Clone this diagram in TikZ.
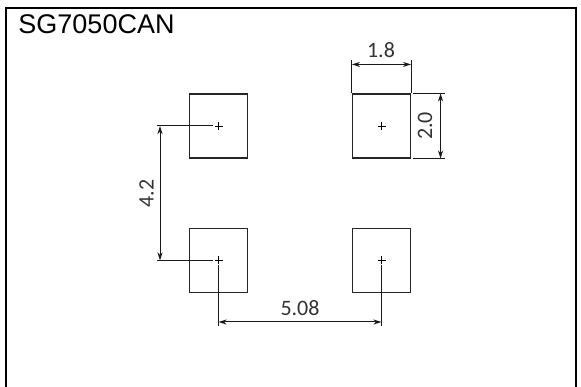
\documentclass[tikz,border=0pt]{standalone}
\usepackage{fontspec}
\setmainfont{Liberation Sans}
\newfontfamily\cadfont{Carlito}
\usetikzlibrary{arrows.meta, positioning}
\begin{document}
\begin{tikzpicture}[x=1pt, y=-1pt,
    pad/.style={draw=black!85, line width=1.1pt, minimum width=58pt, minimum height=64pt, inner sep=0pt},
    thin line/.style={line width=1pt, black!90},
    dim/.style={thin line, {Stealth[length=8pt, width=5pt, inset=2.5pt]}-{Stealth[length=8pt, width=5pt, inset=2.5pt]}},
    size/.style={font=\cadfont\fontsize{22}{22}\selectfont, text=black!80, inner sep=0pt},
    cross/.style={line width=0.8pt, black}]
    \useasboundingbox (0,0) rectangle (581,387);

    % Frame and title
    \coordinate (framebl) at (6,387);
    \coordinate (frametr) at (575.7,7.8);
    \draw[line width=2pt] (framebl) |- (frametr) -- (frametr |- framebl);
    \node[font=\fontsize{27}{27}\selectfont, inner sep=0pt] (title) at (96.5,24.5) {SG7050CAN};

    % Pads
    \node[pad] (padtl) at (218.5,126) {};
    \node[pad] (padtr) at (381.5,126) {};
    \node[pad] (padbl) at (218.5,260.5) {};
    \node[pad] (padbr) at (381.5,260.5) {};

    % Centre marks
    \foreach \p in {padtl, padtr, padbl, padbr} {
        \draw[cross] ([xshift=-4pt]\p.center) -- ([xshift=4pt]\p.center);
        \draw[cross] ([yshift=-4pt]\p.center) -- ([yshift=4pt]\p.center);
    }

    % 1.8
    \draw[thin line] (padtr.north west) -- ([yshift=33.5pt]padtr.north west);
    \draw[thin line] (padtr.north east) -- ([yshift=33.5pt]padtr.north east);
    \draw[dim] ([yshift=29pt]padtr.north west) -- ([yshift=29pt]padtr.north east);
    \node[size] (labelw) at (381,50.5) {1.8};

    % 2.0
    \draw[thin line] ([xshift=2pt]padtr.north east) -- ([xshift=33.5pt]padtr.north east);
    \draw[thin line] ([xshift=2pt]padtr.south east) -- ([xshift=33.5pt]padtr.south east);
    \draw[dim] ([xshift=29.5pt]padtr.north east) -- ([xshift=29.5pt]padtr.south east);
    \node[size, rotate=90] (labelh) at (425,126) {2.0};

    % 4.2
    \draw[thin line] ([xshift=-62pt]padtl.center) -- ([xshift=-6pt]padtl.center);
    \draw[thin line] ([xshift=-62pt]padbl.center) -- ([xshift=-6pt]padbl.center);
    \draw[dim] ([xshift=-58.5pt]padtl.center) -- ([xshift=-58.5pt]padbl.center);
    \node[size, rotate=90] (labelv) at (146.5,193.5) {4.2};

    % 5.08
    \draw[thin line] ([yshift=-5pt]padbl.center) -- ([yshift=-66pt]padbl.center);
    \draw[thin line] ([yshift=-5pt]padbr.center) -- ([yshift=-66pt]padbr.center);
    \draw[dim] ([yshift=-61.5pt]padbl.center) -- ([yshift=-61.5pt]padbr.center);
    \node[size] (labelp) at (300,308) {5.08};
\end{tikzpicture}
\end{document}
